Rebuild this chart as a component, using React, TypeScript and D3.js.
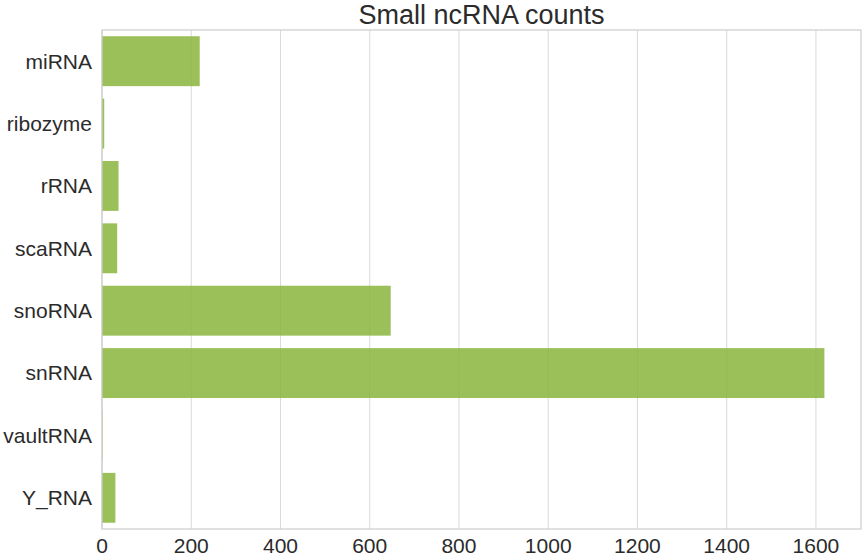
import * as d3 from 'd3'
import React, { useRef, useEffect } from 'react'

// small ncRNA types and how many of each were counted
const categories = ['miRNA', 'ribozyme', 'rRNA', 'scaRNA', 'snoRNA', 'snRNA', 'vaultRNA', 'Y_RNA']
const counts = [219, 5, 37, 34, 647, 1619, 1, 30]
const xTicks = [0, 200, 400, 600, 800, 1000, 1200, 1400, 1600]

const width = 862
const height = 557
const margin = { top: 30, right: 1, bottom: 28, left: 102 }

export default function App() {
  const svgRef = useRef(null)

  function renderChart() {
    const svg = d3.select(svgRef.current)
    svg.selectAll('*').remove()
    svg.attr('width', width).attr('height', height)

    const innerW = width - margin.left - margin.right
    const innerH = height - margin.top - margin.bottom

    const x = d3.scaleLinear().domain([0, 1701]).range([0, innerW])
    const y = d3.scaleBand().domain(categories).range([0, innerH]).paddingInner(0.2).paddingOuter(0.1)

    const g = svg.append('g').attr('transform', `translate(${margin.left},${margin.top})`)

    // vertical grid
    g.selectAll('line.grid')
      .data(xTicks)
      .join('line')
      .attr('class', 'grid')
      .attr('x1', (d) => x(d))
      .attr('x2', (d) => x(d))
      .attr('y1', 0)
      .attr('y2', innerH)
      .attr('stroke', '#d9d9d9')
      .attr('stroke-width', 1)

    g.selectAll('rect.bar')
      .data(categories)
      .join('rect')
      .attr('class', 'bar')
      .attr('x', x(0))
      .attr('y', (d) => y(d)!)
      .attr('width', (d, i) => x(counts[i]) - x(0))
      .attr('height', y.bandwidth())
      .attr('fill', '#8ab53d')
      .attr('fill-opacity', 0.85)

    // frame
    g.append('rect')
      .attr('x', 0)
      .attr('y', 0)
      .attr('width', innerW)
      .attr('height', innerH)
      .attr('fill', 'none')
      .attr('stroke', '#cccccc')
      .attr('stroke-width', 1.2)

    const font = 'Arial, "Liberation Sans", sans-serif'

    g.selectAll('text.ylab')
      .data(categories)
      .join('text')
      .attr('class', 'ylab')
      .text((d) => d)
      .attr('x', -10)
      .attr('y', (d) => y(d)! + y.bandwidth() / 2)
      .attr('dy', '0.35em')
      .attr('text-anchor', 'end')
      .attr('font-family', font)
      .attr('font-size', '21px')
      .attr('fill', '#2b2b2b')

    g.selectAll('text.xlab')
      .data(xTicks)
      .join('text')
      .attr('class', 'xlab')
      .text((d) => `${d}`)
      .attr('x', (d) => x(d))
      .attr('y', innerH + 24)
      .attr('text-anchor', 'middle')
      .attr('font-family', font)
      .attr('font-size', '21px')
      .attr('fill', '#2b2b2b')

    svg.append('text')
      .text('Small ncRNA counts')
      .attr('x', margin.left + innerW / 2)
      .attr('y', 24)
      .attr('text-anchor', 'middle')
      .attr('font-family', font)
      .attr('font-size', '27px')
      .attr('fill', '#2b2b2b')
  }

  useEffect(() => {
    renderChart()
  }, [])

  return (
    <div style={{ position: 'absolute', left: 0, top: 0 }}>
      <svg ref={svgRef} style={{ display: 'block' }} />
    </div>
  )
}
